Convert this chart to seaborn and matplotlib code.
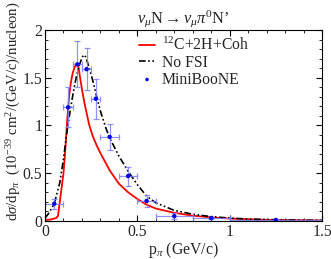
import numpy as np
import matplotlib
matplotlib.use("Agg")
import matplotlib.pyplot as plt
import seaborn as sns
import pandas as pd

# --- data ---
p_red = [0.0, 0.03, 0.06, 0.07, 0.08, 0.09, 0.10, 0.11, 0.12, 0.13, 0.14, 0.15, 0.16,
         0.17, 0.175, 0.18, 0.19, 0.20, 0.215, 0.24, 0.26, 0.28, 0.30, 0.35, 0.40, 0.45,
         0.50, 0.55, 0.60, 0.70, 0.80, 0.90, 1.0, 1.1, 1.2, 1.35, 1.5]
xs_red = [0.01, 0.015, 0.03, 0.05, 0.2, 0.35, 0.5, 0.75, 1.05, 1.3, 1.45, 1.55, 1.61,
          1.645, 1.65, 1.63, 1.5, 1.38, 1.22, 1.0, 0.88, 0.79, 0.71, 0.53, 0.39, 0.3,
          0.23, 0.17, 0.13, 0.085, 0.055, 0.037, 0.025, 0.017, 0.012, 0.008, 0.005]

p_nofsi = [0.0, 0.02, 0.05, 0.08, 0.10, 0.12, 0.14, 0.16, 0.18, 0.20, 0.21, 0.22, 0.24,
           0.26, 0.28, 0.30, 0.33, 0.35, 0.40, 0.45, 0.50, 0.55, 0.60, 0.70, 0.80, 0.90,
           1.0, 1.1, 1.2, 1.35, 1.5]
xs_nofsi = [0.03, 0.08, 0.18, 0.4, 0.65, 0.95, 1.2, 1.42, 1.6, 1.71, 1.74, 1.72, 1.6,
            1.46, 1.3, 1.15, 0.97, 0.87, 0.68, 0.52, 0.38, 0.26, 0.19, 0.11, 0.07, 0.045,
            0.03, 0.02, 0.014, 0.009, 0.006]

p_data = [0.05, 0.125, 0.175, 0.225, 0.275, 0.35, 0.45, 0.55, 0.7, 0.9, 1.25]
p_err = [0.05, 0.025, 0.025, 0.025, 0.025, 0.05, 0.05, 0.05, 0.1, 0.1, 0.25]
xs_data = [0.18, 1.19, 1.64, 1.59, 1.28, 0.88, 0.47, 0.21, 0.05, 0.03, 0.01]
xs_err = [0.05, 0.21, 0.24, 0.22, 0.21, 0.14, 0.1, 0.06, 0.03, 0.015, 0.005]

sns.set_style("ticks")
plt.rcParams['font.family'] = ['Liberation Serif', 'DejaVu Serif']
plt.rcParams['mathtext.fontset'] = 'custom'
plt.rcParams['mathtext.rm'] = 'Liberation Serif'
plt.rcParams['mathtext.it'] = 'Liberation Serif:italic'
plt.rcParams['mathtext.cal'] = 'Liberation Serif'

FS = 11.3

fig = plt.figure(figsize=(3.31, 2.59), dpi=100)
ax = fig.add_axes([0.136, 0.147, 0.837, 0.737])

red_df = pd.DataFrame({'p': p_red, 'xs': xs_red})
nofsi_df = pd.DataFrame({'p': p_nofsi, 'xs': xs_nofsi})
data_df = pd.DataFrame({'p': p_data, 'xs': xs_data})

sns.lineplot(data=red_df, x='p', y='xs', ax=ax, color='red', lw=1.3,
             label=r'$^{12}$C+2H+Coh')
sns.lineplot(data=nofsi_df, x='p', y='xs', ax=ax, color='black', lw=1.2,
             dashes=False, label='No FSI')
ax.lines[-1].set_dashes([4, 1.5, 1, 1.5, 1, 1.5])

ax.errorbar(p_data, xs_data, xerr=p_err, yerr=xs_err, fmt='none',
            ecolor='#7b82f5', elinewidth=0.9, capsize=2, capthick=0.9, alpha=0.85)
sns.scatterplot(data=data_df, x='p', y='xs', ax=ax, color='#0000ee', s=10,
                edgecolor='none', label='MiniBooNE', zorder=5)

ax.set_xlim(0, 1.5)
ax.set_ylim(0, 2)
ax.set_xticks([0, 0.5, 1, 1.5])
ax.set_xticklabels(['0', '0.5', '1', '1.5'])
ax.set_yticks([0, 0.5, 1, 1.5, 2])
ax.set_yticklabels(['0', '0.5', '1', '1.5', '2'])
ax.set_xticks(np.arange(0, 1.5, 0.1), minor=True)
ax.set_yticks(np.arange(0, 2.0, 0.1), minor=True)
ax.tick_params(which='both', direction='in', top=True, right=True, labelsize=FS,
               color='black', pad=2)
ax.tick_params(which='major', length=4, width=0.8)
ax.tick_params(which='minor', length=2, width=0.6)
for s in ax.spines.values():
    s.set_linewidth(0.8)
    s.set_color('black')

ax.set_xlabel(r'p$_\pi$ (GeV/c)', fontsize=FS, labelpad=0.5)
ax.set_ylabel(r'd$\sigma$/dp$_\pi$  (10$^{-39}$ cm$^2$/(GeV/c)/nucleon)',
              fontsize=10.6)
ax.yaxis.set_label_coords(-0.08, 0.575)
ax.set_title(r'$\nu_\mu$N$\rightarrow\nu_\mu\pi^0$N’', fontsize=FS + 0.5, pad=5)

ax.legend(loc='upper left', bbox_to_anchor=(0.34, 0.965), frameon=False, fontsize=FS,
          handlelength=1.0, handletextpad=0.45, labelspacing=0.05, borderpad=0,
          borderaxespad=0, markerscale=0.8)

fig.savefig('out.png', dpi=100)
